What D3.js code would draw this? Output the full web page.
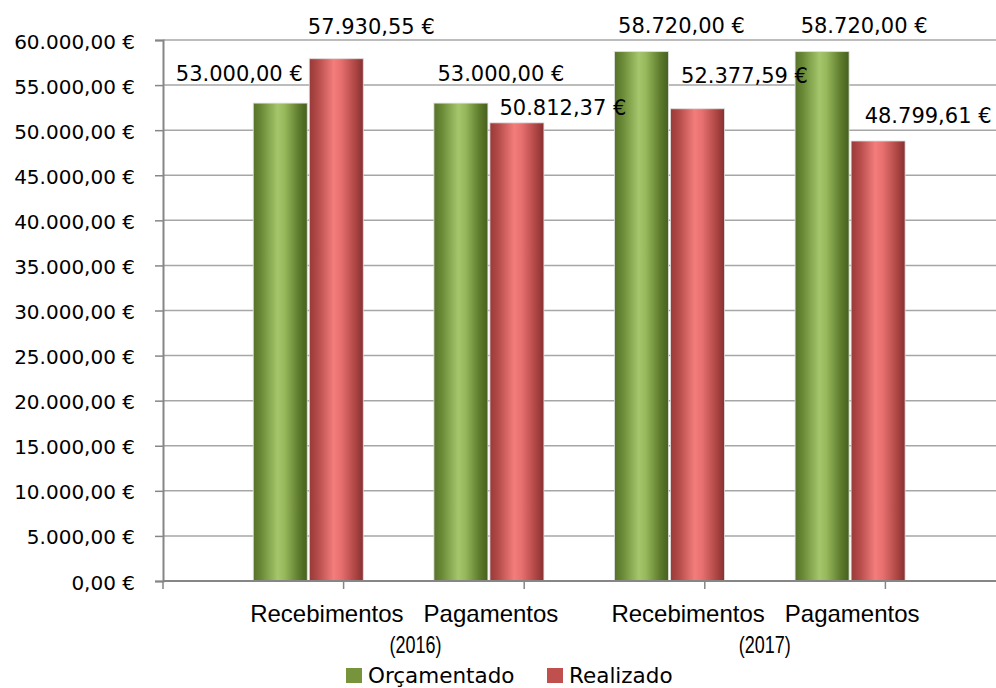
<!DOCTYPE html>
<html>
<head>
<meta charset="utf-8">
<script src="https://cdn.jsdelivr.net/npm/d3@7"></script>
<style>
  body { margin: 0; background: #fff; }
  svg { display: block; }
</style>
</head>
<body>
<div id="chart"></div>
<script>
const groups = ["Recebimentos (2016)", "Pagamentos (2016)", "Recebimentos (2017)", "Pagamentos (2017)"];
const groupNames = ["Recebimentos", "Pagamentos", "Recebimentos", "Pagamentos"];
const years = ["(2016)", "(2017)"];
const series = ["Orçamentado", "Realizado"];
const orcamentado = [53000, 53000, 58720, 58720];
const realizado = [57930.55, 50812.37, 52377.59, 48799.61];
const yTicks = [0, 5000, 10000, 15000, 20000, 25000, 30000, 35000, 40000, 45000, 50000, 55000, 60000];

// the labels were dragged around by hand in the original, so keep the nudges
const labelNudge = [[-41, -22], [35, -25], [40, -22], [46, -8], [40, -19], [47, -26], [42, -19], [50, -18]];

const width = 996;
const height = 688;
const plotLeft = 163, plotTop = 40, plotBottom = 581;

const colors = { "Orçamentado": "#77933c", "Realizado": "#c0504d" };

const euro = d3.formatLocale({
  decimal: ",",
  thousands: ".",
  grouping: [3],
  currency: ["", " €"]
}).format("$,.2f");

const svg = d3.select("#chart")
  .append("svg")
  .attr("width", width)
  .attr("height", height);

// gradients for the shaded bars
const defs = svg.append("defs");
const shades = {
  "Orçamentado": ["#56722a", "#6a8a36", "#a6c66c", "#98b85c", "#5c7a2b", "#46601e"],
  "Realizado": ["#983a39", "#b24a48", "#f37d7b", "#e87170", "#ad4644", "#873030"]
};
const offsets = [0, 0.15, 0.45, 0.58, 0.85, 1];
series.forEach((s, i) => {
  const g = defs.append("linearGradient")
    .attr("id", "grad" + i)
    .attr("x1", 0).attr("x2", 1).attr("y1", 0).attr("y2", 0);
  g.selectAll("stop")
    .data(shades[s])
    .enter()
    .append("stop")
    .attr("offset", (d, j) => offsets[j])
    .attr("stop-color", (d) => d);
});

const x0 = d3.scaleBand()
  .domain(groups)
  .range([plotLeft, plotLeft + 4 * 180.6]);

const bw = x0.bandwidth();
const x1 = d3.scaleBand()
  .domain(series)
  .range([bw / 2, bw / 2 + 110])
  .paddingInner(0.036);

const y = d3.scaleLinear()
  .domain([0, 60000])
  .range([plotBottom, plotTop]);

// gridlines
svg.append("g")
  .selectAll("line")
  .data(yTicks.filter((d) => d > 0))
  .enter()
  .append("line")
  .attr("x1", plotLeft)
  .attr("x2", width)
  .attr("y1", (d) => y(d))
  .attr("y2", (d) => y(d))
  .attr("stroke", "#a6a6a6")
  .attr("stroke-width", 1.5);

// y axis
const yAxis = svg.append("g")
  .attr("transform", `translate(${plotLeft},0)`)
  .call(d3.axisLeft(y).tickValues(yTicks).tickSize(8).tickPadding(20).tickFormat(euro));
yAxis.select(".domain").attr("stroke", "#868686").attr("stroke-width", 2);
yAxis.selectAll(".tick line").attr("stroke", "#868686").attr("stroke-width", 1.5);
yAxis.selectAll(".tick text")
  .attr("dy", "0.4em")
  .style("font-family", "'DejaVu Sans', sans-serif")
  .style("font-size", "20px")
  .attr("fill", "#000");

// bars
const rows = groups.map((g, i) => ({ group: g, values: [orcamentado[i], realizado[i]] }));

const bars = svg.append("g")
  .selectAll("g")
  .data(rows)
  .enter()
  .append("g")
  .attr("transform", (d) => `translate(${x0(d.group)},0)`);

bars.selectAll("rect")
  .data((d) => d.values.map((v, j) => ({ s: series[j], j: j, v: v })))
  .enter()
  .append("rect")
  .attr("x", (d) => x1(d.s))
  .attr("width", x1.bandwidth())
  .attr("y", (d) => y(d.v))
  .attr("height", (d) => y(0) - y(d.v))
  .attr("fill", (d) => `url(#grad${d.j})`)
  .attr("stroke", "rgba(225,225,225,0.8)")
  .attr("stroke-width", 1);

// x axis
svg.append("line")
  .attr("x1", plotLeft)
  .attr("x2", width)
  .attr("y1", plotBottom)
  .attr("y2", plotBottom)
  .attr("stroke", "#868686")
  .attr("stroke-width", 2);

const boundaries = groups.map((g) => x0(g)).concat([x0(groups[3]) + bw]);
svg.append("g")
  .selectAll("line")
  .data(boundaries)
  .enter()
  .append("line")
  .attr("x1", (d) => d)
  .attr("x2", (d) => d)
  .attr("y1", plotBottom)
  .attr("y2", plotBottom + 8)
  .attr("stroke", "#868686")
  .attr("stroke-width", 1.5);

// data labels
const labels = [];
rows.forEach((r, i) => {
  r.values.forEach((v, j) => {
    labels.push({ group: r.group, s: series[j], v: v });
  });
});

svg.append("g")
  .selectAll("text")
  .data(labels)
  .enter()
  .append("text")
  .attr("x", (d, k) => x0(d.group) + x1(d.s) + x1.bandwidth() / 2 + labelNudge[k][0])
  .attr("y", (d, k) => y(d.v) + labelNudge[k][1])
  .attr("text-anchor", "middle")
  .style("font-family", "'DejaVu Sans', sans-serif")
  .style("font-size", "21px")
  .attr("fill", "#000")
  .text((d) => euro(d.v));

// category labels, one pair per year
const catFont = "'Liberation Sans', Arial, sans-serif";
years.forEach((yr, p) => {
  const a = groups[p * 2];
  const b = groups[p * 2 + 1];
  const mid = (x0(a) + x1("Realizado") + x0(b) + x1("Realizado")) / 2;

  svg.append("text")
    .attr("x", mid + 4)
    .attr("y", 622)
    .attr("text-anchor", "end")
    .style("font-family", catFont)
    .style("font-size", "24px")
    .attr("fill", "#000")
    .text(groupNames[p * 2]);

  svg.append("text")
    .attr("x", mid + 24)
    .attr("y", 622)
    .attr("text-anchor", "start")
    .style("font-family", catFont)
    .style("font-size", "24px")
    .attr("fill", "#000")
    .text(groupNames[p * 2 + 1]);

  // the year line is set in a narrow face in the original
  svg.append("text")
    .attr("x", mid + 10 + (p === 0 ? 6 : -6))
    .attr("y", 653)
    .attr("text-anchor", "middle")
    .attr("textLength", 52)
    .attr("lengthAdjust", "spacingAndGlyphs")
    .style("font-family", catFont)
    .style("font-size", "24px")
    .attr("fill", "#000")
    .text(yr);
});

// legend
const legendX = [346, 547];
const legend = svg.append("g")
  .selectAll("g")
  .data(series)
  .enter()
  .append("g")
  .attr("transform", (d, i) => `translate(${legendX[i]},668)`);

legend.append("rect")
  .attr("width", 16)
  .attr("height", 15)
  .attr("fill", (d) => colors[d]);

legend.append("text")
  .attr("x", 22)
  .attr("y", 15)
  .style("font-family", "'DejaVu Sans', sans-serif")
  .style("font-size", "21.5px")
  .attr("fill", "#000")
  .text((d) => d);
</script>
</body>
</html>
